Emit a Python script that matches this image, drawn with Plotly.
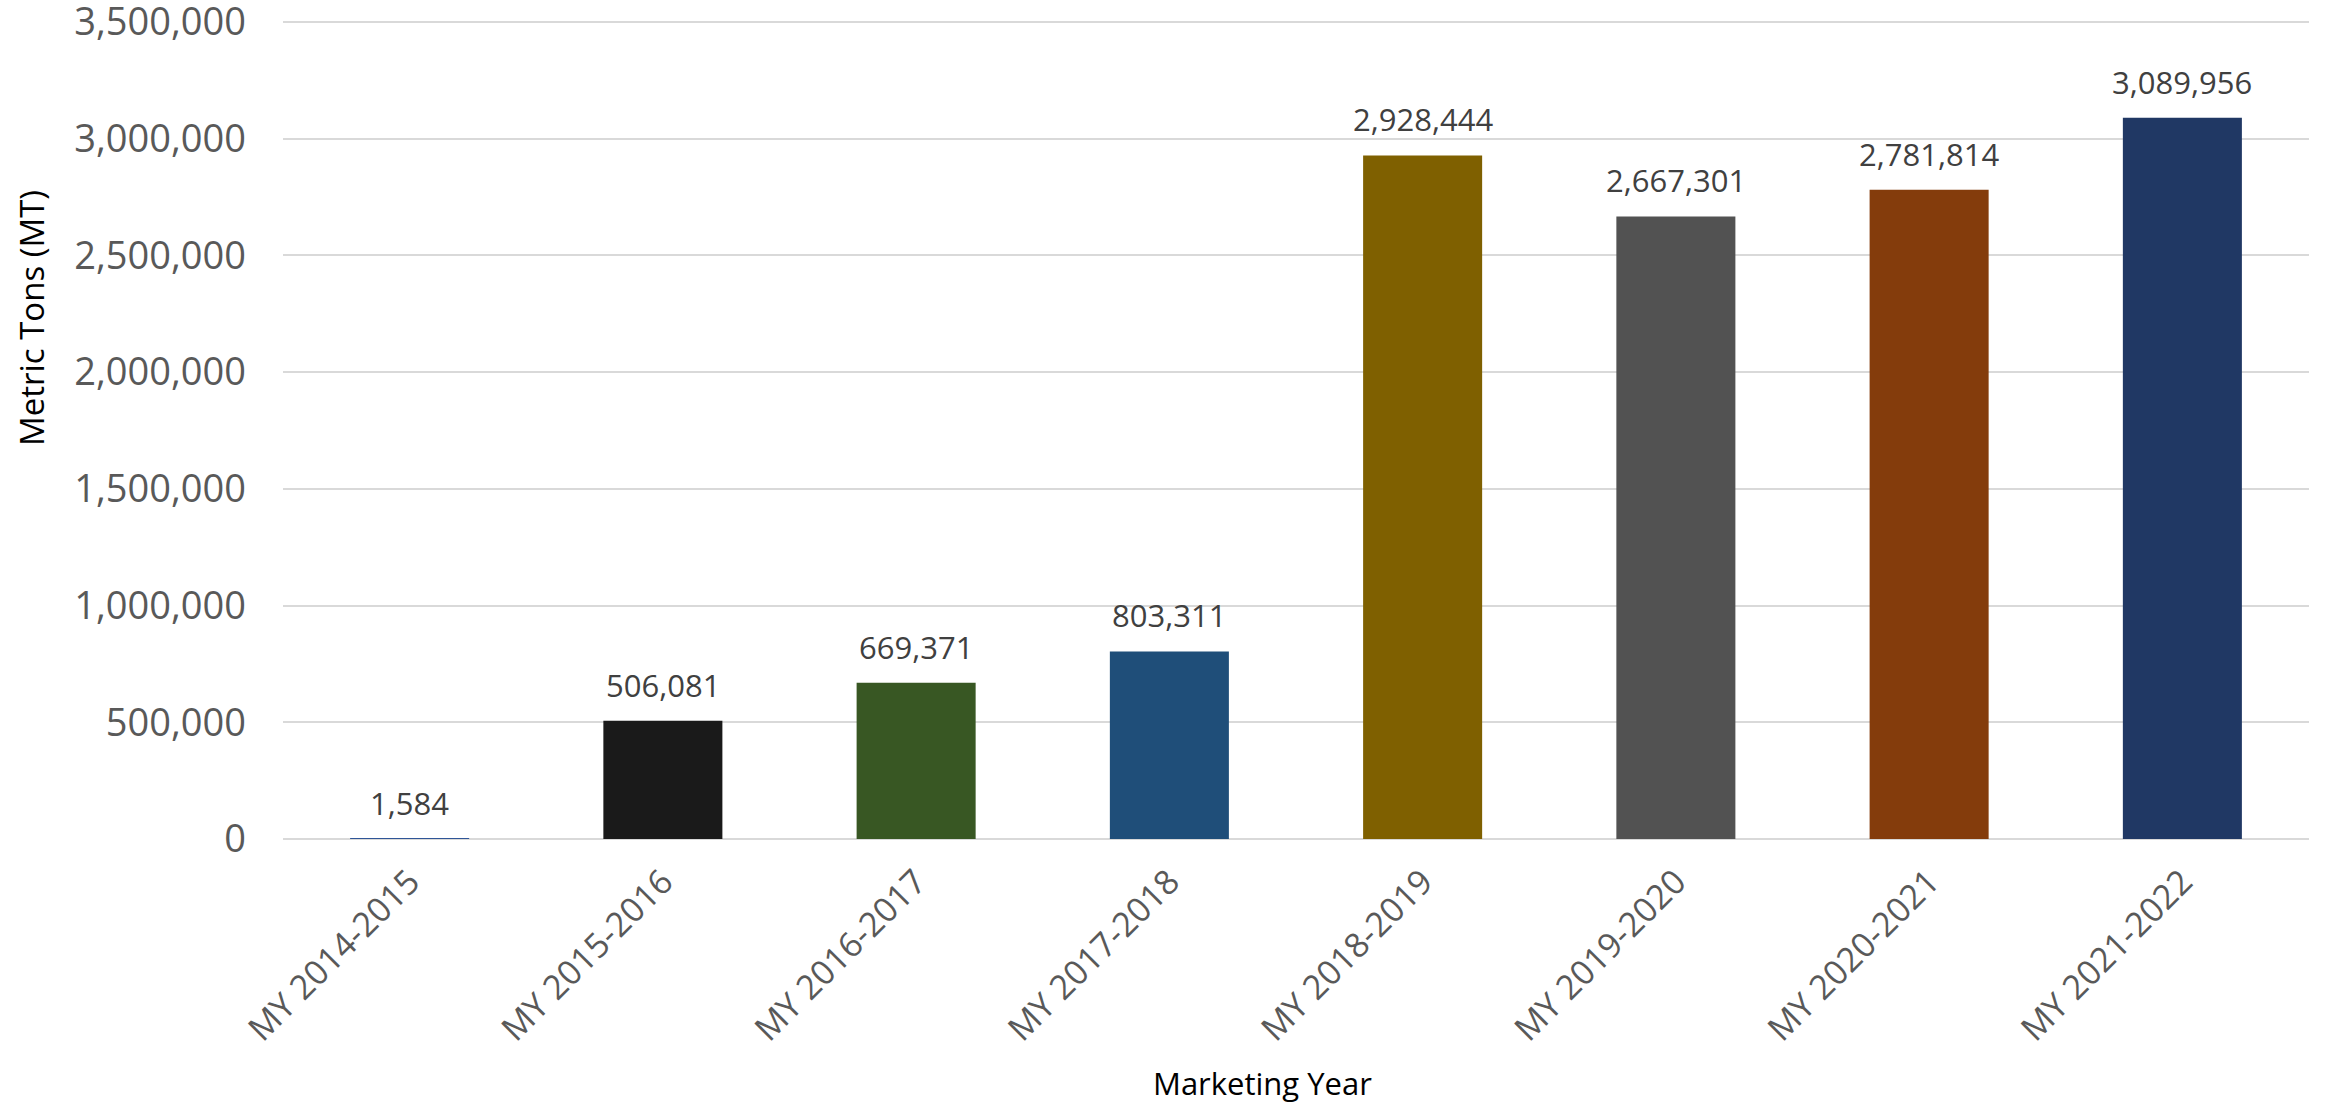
import plotly.graph_objects as go

categories = ["MY 2014-2015", "MY 2015-2016", "MY 2016-2017", "MY 2017-2018",
              "MY 2018-2019", "MY 2019-2020", "MY 2020-2021", "MY 2021-2022"]
values = [1584, 506081, 669371, 803311, 2928444, 2667301, 2781814, 3089956]
bar_colors = ["#2f5597", "#1a1a1a", "#385723", "#1f4e79",
              "#7f6000", "#525252", "#843c0c", "#203864"]
y_ticks = [0, 500000, 1000000, 1500000, 2000000, 2500000, 3000000, 3500000]
y_tick_labels = ["0", "500,000", "1,000,000", "1,500,000", "2,000,000",
                 "2,500,000", "3,000,000", "3,500,000"]
x_title = "Marketing Year"
y_title = "Metric Tons (MT)"

FONT = "Open Sans"

W, H = 2336, 1105
L, R, T, B = 283, 27, 17, 266
plot_w = W - L - R
plot_h = H - T - B
y_max = 3500000 * plot_h / 817.0

fig = go.Figure(go.Bar(
    x=categories,
    y=values,
    marker=dict(color=bar_colors, line=dict(width=0)),
    hoverinfo="x+y",
))

for c, v in zip(categories, values):
    fig.add_annotation(
        x=c, y=v, xref="x", yref="y",
        text=f"{v:,}", showarrow=False,
        yanchor="bottom", yshift=13,
        font=dict(family=FONT, size=31, color="#404040"),
    )

fig.add_annotation(
    x=(1262 - L) / plot_w, xref="paper", y=-(1083 - 839) / plot_h, yref="paper",
    yanchor="middle", text=x_title, showarrow=False,
    font=dict(family=FONT, size=31, color="#000000"),
)
fig.add_annotation(
    x=-(L - 31) / plot_w, xref="paper", xanchor="center",
    y=(839 - 318) / plot_h, yref="paper", yanchor="middle",
    text=y_title, showarrow=False, textangle=-90,
    font=dict(family=FONT, size=33, color="#000000"),
)

fig.update_layout(
    width=W, height=H,
    margin=dict(l=L, r=R, t=T, b=B, autoexpand=False),
    paper_bgcolor="white", plot_bgcolor="white",
    bargap=0.53,
    showlegend=False,
    font=dict(family=FONT),
)

fig.update_xaxes(
    tickangle=-45,
    tickfont=dict(family=FONT, size=34, color="#595959"),
    showgrid=False, showline=False, ticks="",
    ticklabelstandoff=15,
    automargin=False,
)

fig.update_yaxes(
    range=[0, y_max],
    tickvals=y_ticks, ticktext=y_tick_labels,
    tickfont=dict(family=FONT, size=38, color="#595959"),
    showgrid=True, gridcolor="#d9d9d9", gridwidth=2,
    zeroline=True, zerolinecolor="#d9d9d9", zerolinewidth=2,
    showline=False, ticks="", ticklen=0,
    ticklabelstandoff=36,
    ticklabeloverflow="allow",
    automargin=False,
)

fig.write_html("out.html")
